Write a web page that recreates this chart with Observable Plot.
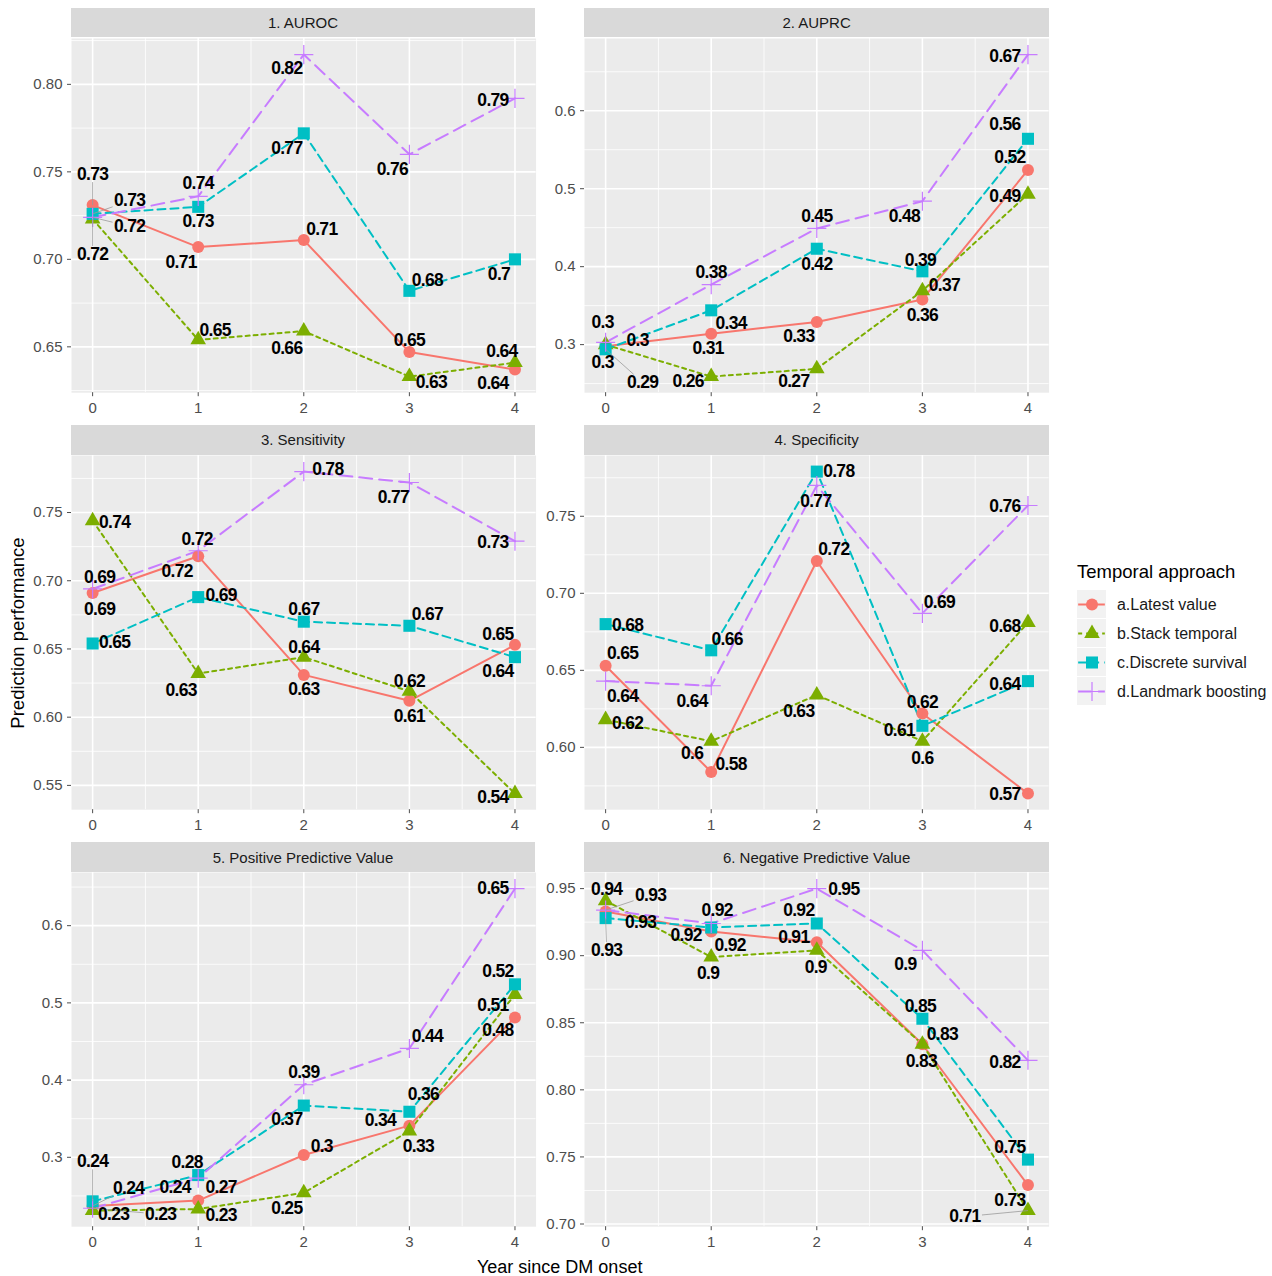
<!DOCTYPE html>
<html>
<head>
<meta charset="utf-8">
<title>Prediction performance by temporal approach</title>
<script src="https://cdn.jsdelivr.net/npm/d3@7"></script>
<script src="https://cdn.jsdelivr.net/npm/@observablehq/plot@0.6"></script>
<style>
  html, body { margin: 0; background: #fff; }
  #fig { position: relative; width: 1272px; height: 1276px; overflow: hidden;
         font-family: "Liberation Sans", Arial, Helvetica, sans-serif; }
  .strip { position: absolute; background: #D9D9D9; color: #1A1A1A; font-size: 15px;
           display: flex; align-items: center; justify-content: center; }
  .panel { position: absolute; overflow: visible; }
  .panel g[font-weight="bold"] { letter-spacing: -0.7px; }
  .title { position: absolute; color: #000; white-space: nowrap; line-height: 22px; }
</style>
</head>
<body>
<div id="fig"></div>
<script>
// ---- data -------------------------------------------------------------
const years = [0, 1, 2, 3, 4];
const approaches = ["a.Latest value", "b.Stack temporal", "c.Discrete survival", "d.Landmark boosting"];
const metrics = ["1. AUROC", "2. AUPRC", "3. Sensitivity", "4. Specificity",
                 "5. Positive Predictive Value", "6. Negative Predictive Value"];

// each metric: one row per approach (a..d), one value per year 0..4
const auroc = [
  [0.731, 0.707, 0.711, 0.647, 0.637],
  [0.723, 0.654, 0.659, 0.633, 0.641],
  [0.726, 0.730, 0.772, 0.682, 0.700],
  [0.724, 0.736, 0.817, 0.760, 0.792]
];
const auprc = [
  [0.298, 0.314, 0.329, 0.358, 0.524],
  [0.300, 0.259, 0.269, 0.369, 0.493],
  [0.294, 0.344, 0.423, 0.394, 0.564],
  [0.303, 0.377, 0.449, 0.484, 0.672]
];
const sensitivity = [
  [0.691, 0.718, 0.631, 0.612, 0.653],
  [0.744, 0.632, 0.644, 0.619, 0.544],
  [0.654, 0.688, 0.670, 0.667, 0.644],
  [0.694, 0.722, 0.780, 0.772, 0.729]
];
const specificity = [
  [0.653, 0.584, 0.721, 0.622, 0.570],
  [0.618, 0.604, 0.634, 0.604, 0.681],
  [0.680, 0.663, 0.779, 0.614, 0.643],
  [0.643, 0.640, 0.770, 0.687, 0.757]
];
const ppv = [
  [0.237, 0.244, 0.303, 0.341, 0.481],
  [0.231, 0.233, 0.254, 0.334, 0.511],
  [0.243, 0.277, 0.367, 0.359, 0.524],
  [0.234, 0.273, 0.394, 0.441, 0.648]
];
const npv = [
  [0.933, 0.918, 0.910, 0.834, 0.729],
  [0.941, 0.899, 0.904, 0.834, 0.710],
  [0.928, 0.921, 0.924, 0.853, 0.748],
  [0.934, 0.924, 0.950, 0.904, 0.822]
];

// y tick values per metric
const aurocTicks = [0.65, 0.70, 0.75, 0.80];
const auprcTicks = [0.3, 0.4, 0.5, 0.6];
const sensitivityTicks = [0.55, 0.60, 0.65, 0.70, 0.75];
const specificityTicks = [0.60, 0.65, 0.70, 0.75];
const ppvTicks = [0.3, 0.4, 0.5, 0.6];
const npvTicks = [0.70, 0.75, 0.80, 0.85, 0.90, 0.95];

// ---- label placement (pixel nudges [dx, dy, leader line]) ---------------
const aurocNudge = [
  [[0, -31, 1], [-17, 15], [18, -11], [0, -12], [-22, 14]],
  [[0, 35, 1], [17, -9], [-17, 17], [22, 6], [-13, -11]],
  [[37, -13, 1], [0, 15], [-17, 15], [18, -10], [-16, 15]],
  [[37, 9, 1], [0, -13], [-17, 14], [-17, 15], [-22, 2]]
];
const auprcNudge = [
  [[32, -6], [-3, 15], [-18, 14], [0, 16], [-18, -13]],
  [[-3, 18], [-23, 5], [-23, 13], [22, -5], [-23, 2]],
  [[37, 33, 1], [20, 13], [0, 16], [-2, -11], [-23, -14]],
  [[-3, -20], [0, -12], [0, -12], [-18, 15], [-23, 2]]
];
const sensitivityNudge = [
  [[7, 16], [-21, 15], [0, 15], [0, 16], [-17, -10]],
  [[22, 2], [-17, 17], [0, -10], [0, -10], [-22, 4]],
  [[22, -1], [23, -2], [0, -12], [18, -11], [-17, 14]],
  [[7, -12], [-1, -11], [24, -2], [-16, 15], [-22, 1]]
];
const specificityNudge = [
  [[17, -12], [20, -8], [17, -12], [0, -11], [-23, 1]],
  [[22, 4], [-19, 12], [-18, 16], [0, 17], [-23, 4]],
  [[22, 1], [16, -11], [22, 0], [-23, 5], [-23, 3]],
  [[17, 15], [-19, 16], [-1, 16], [17, -11], [-23, 1]]
];
const ppvNudge = [
  [[36, -18, 1], [-23, -13], [18, -9], [-29, -5], [-17, 13]],
  [[21, 4], [23, 6], [-17, 16], [9, 15], [-22, 11]],
  [[0, -40, 1], [-11, -13], [-17, 14], [14, -17], [-17, -13]],
  [[68, 6, 1], [23, 9], [0, -12], [18, -12], [-22, 0]]
];
const npvNudge = [
  [[35, 11], [-25, 4], [-23, -5], [20, -10], [-18, 15]],
  [[1, -11], [-3, 16], [-1, 17], [-1, 17], [-63, 6, 1]],
  [[1, 32, 1], [19, 18], [-18, -13], [-2, -12], [-18, -12]],
  [[45, -15, 1], [6, -13], [27, 1], [-17, 14], [-23, 2]]
];

// ---- styling ---------------------------------------------------------
const colors = ["#F8766D", "#7CAE00", "#00BFC4", "#C77CFF"];
const symbols = ["circle", "triangle", "square", "plus"];
const dotRadius = [6, 5.8, 6.8, 6.2];
const dashes = [null, "4,4", "8,5", "13,7"];

const panels = [
  {title: metrics[0], values: auroc, ticks: aurocTicks, digits: 2, nudge: aurocNudge},
  {title: metrics[1], values: auprc, ticks: auprcTicks, digits: 1, nudge: auprcNudge},
  {title: metrics[2], values: sensitivity, ticks: sensitivityTicks, digits: 2, nudge: sensitivityNudge},
  {title: metrics[3], values: specificity, ticks: specificityTicks, digits: 2, nudge: specificityNudge},
  {title: metrics[4], values: ppv, ticks: ppvTicks, digits: 1, nudge: ppvNudge},
  {title: metrics[5], values: npv, ticks: npvTicks, digits: 2, nudge: npvNudge}
];

// ---- layout ----------------------------------------------------------
const panelW = 464.6, panelH = 354.2, stripH = 29.8;
const colLeft = [70.7, 584.3], rowTop = [7.7, 425, 842.3];
const mLeft = 70, mRight = 4, mBottom = 36;
const xDomain = [-0.2, 4.2];
const fontFamily = '"Liberation Sans", Arial, Helvetica, sans-serif';
const fmtLabel = v => String(Math.round(v * 100) / 100);

const fig = document.getElementById("fig");

function addText(text, css) {
  const d = document.createElement("div");
  d.className = "title";
  d.textContent = text;
  Object.assign(d.style, css);
  fig.appendChild(d);
  return d;
}

panels.forEach((p, i) => {
  const col = i % 2, row = Math.floor(i / 2);
  const left = colLeft[col], top = rowTop[row] + stripH;

  // facet strip
  const strip = document.createElement("div");
  strip.className = "strip";
  Object.assign(strip.style, {left: left + "px", top: rowTop[row] + "px",
                              width: panelW + "px", height: stripH + "px"});
  strip.textContent = p.title;
  fig.appendChild(strip);

  // free y range with 5% expansion, as in a ggplot facet
  const flat = p.values.flat();
  const lo = d3.min(flat), hi = d3.max(flat), pad = (hi - lo) * 0.05;
  const yDomain = [lo - pad, hi + pad];
  const kx = panelW / (xDomain[1] - xDomain[0]);
  const ky = panelH / (yDomain[1] - yDomain[0]);

  const step = p.ticks[1] - p.ticks[0];
  const yMinor = [];
  for (let t = p.ticks[0] - step / 2; t <= yDomain[1]; t += step) if (t >= yDomain[0]) yMinor.push(t);
  const xMinor = years.slice(1).map(y => y - 0.5);

  const rows = [];
  p.values.forEach((s, j) => s.forEach((v, k) =>
    rows.push({j, year: years[k], value: v, nudge: p.nudge[j][k]})));

  const marks = [
    Plot.frame({fill: "#EBEBEB", stroke: "none"}),
    Plot.ruleX(xMinor, {stroke: "#fff", strokeWidth: 0.8}),
    Plot.ruleY(yMinor, {stroke: "#fff", strokeWidth: 0.8}),
    Plot.ruleX(years, {stroke: "#fff", strokeWidth: 1.6}),
    Plot.ruleY(p.ticks, {stroke: "#fff", strokeWidth: 1.6}),
    Plot.axisX(years, {anchor: "bottom", tickSize: 4, tickPadding: 6, fontSize: 15,
                       color: "#4D4D4D", label: null}),
    Plot.axisY(p.ticks, {anchor: "left", tickSize: 4, tickPadding: 5, fontSize: 15,
                         color: "#4D4D4D", label: null,
                         tickFormat: d3.format("." + p.digits + "f")})
  ];

  approaches.forEach((a, j) => {
    marks.push(Plot.line(rows.filter(r => r.j === j), {
      x: "year", y: "value", stroke: colors[j], strokeWidth: 2,
      strokeDasharray: dashes[j]
    }));
  });
  approaches.forEach((a, j) => {
    marks.push(Plot.dot(rows.filter(r => r.j === j), {
      x: "year", y: "value", symbol: symbols[j], r: dotRadius[j],
      fill: j === 3 ? "none" : colors[j], stroke: j === 3 ? colors[j] : "none",
      strokeWidth: 1.2
    }));
  });

  // leader lines from a point to the edge of its displaced label
  const leaders = rows.filter(r => r.nudge[2]).map(r => {
    const [dx, dy] = r.nudge;
    const hw = fmtLabel(r.value).length * 4 + 1, hh = 8;
    const t = Math.min(dx ? hw / Math.abs(dx) : Infinity, dy ? hh / Math.abs(dy) : Infinity);
    const f = Math.max(0, 1 - t);
    return {...r, x2: r.year + dx * f / kx, y2: r.value - dy * f / ky};
  });
  marks.push(Plot.link(leaders, {x1: "year", y1: "value", x2: "x2", y2: "y2",
                                 stroke: "#9A9A9A", strokeWidth: 0.8}));

  rows.forEach(r => {
    marks.push(Plot.text([r], {
      x: "year", y: "value", text: d => fmtLabel(d.value),
      dx: r.nudge[0], dy: r.nudge[1], fontSize: 17.5, fontWeight: "bold", fill: "#000"
    }));
  });

  const svg = Plot.plot({
    width: panelW + mLeft + mRight, height: panelH + mBottom,
    marginLeft: mLeft, marginRight: mRight, marginTop: 0, marginBottom: mBottom,
    x: {domain: xDomain}, y: {domain: yDomain},
    style: {fontFamily, fontSize: "15px", background: "transparent", overflow: "visible"},
    marks
  });
  svg.classList.add("panel");
  svg.style.left = (left - mLeft) + "px";
  svg.style.top = top + "px";
  fig.appendChild(svg);
});

// ---- axis titles -----------------------------------------------------
addText("Year since DM onset", {left: (559.7 - 200) + "px", top: (1267 - 11) + "px",
                               width: "400px", textAlign: "center", fontSize: "18px"});
addText("Prediction performance", {left: (18 - 150) + "px", top: (633 - 11) + "px",
                                   width: "300px", textAlign: "center", fontSize: "18.5px",
                                   transform: "rotate(-90deg)"});

// ---- legend ----------------------------------------------------------
addText("Temporal approach", {left: "1077px", top: "561px", fontSize: "18.5px"});
const legend = Plot.plot({
  width: 200, height: 126, margin: 0,
  x: {domain: [0, 1], range: [7, 36], axis: null},
  y: {type: "band", domain: approaches, range: [4, 121.5], paddingInner: 0.035, paddingOuter: 0, axis: null},
  style: {fontFamily, background: "transparent", overflow: "visible"},
  marks: [
    Plot.barX(approaches, {x1: 0, x2: 1, y: d => d, fill: "#F2F2F2"}),
    ...approaches.map((a, j) => Plot.ruleY([a], {y: d => d, x1: 0.04, x2: 0.96, stroke: colors[j],
                                                  strokeWidth: 2, strokeDasharray: dashes[j]})),
    ...approaches.map((a, j) => Plot.dot([a], {x: 0.5, y: d => d, symbol: symbols[j], r: dotRadius[j],
                                                fill: j === 3 ? "none" : colors[j],
                                                stroke: j === 3 ? colors[j] : "none", strokeWidth: 1.2})),
    Plot.text(approaches, {x: 1.36, y: d => d, text: d => d, textAnchor: "start",
                           fontSize: 16, fill: "#1A1A1A"})
  ]
});
legend.style.position = "absolute";
legend.style.left = "1070px";
legend.style.top = "585px";
fig.appendChild(legend);
</script>
</body>
</html>
